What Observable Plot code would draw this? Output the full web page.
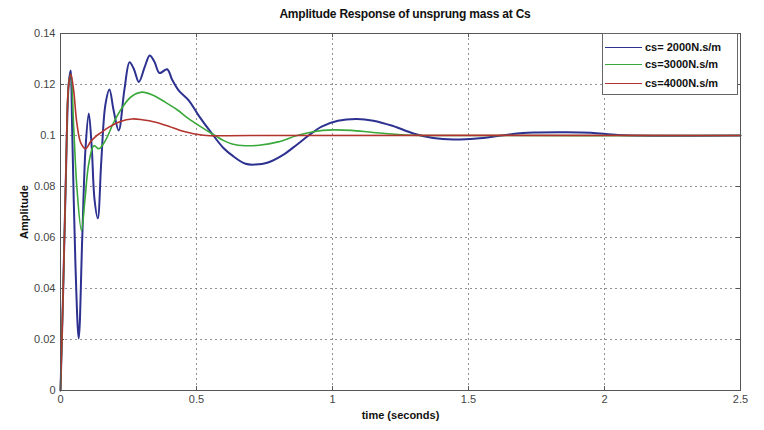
<!DOCTYPE html>
<html>
<head>
<meta charset="utf-8">
<script src="https://cdn.jsdelivr.net/npm/d3@7"></script>
<script src="https://cdn.jsdelivr.net/npm/@observablehq/plot@0.6"></script>
<style>
  html, body { margin: 0; padding: 0; background: #fff; }
  #wrap { position: relative; width: 764px; height: 430px; font-family: "Liberation Sans", Arial, sans-serif; }
  #title { position: absolute; left: 60px; width: 690px; top: 7px; text-align: center; font-weight: bold; font-size: 12px; color: #111; letter-spacing: -0.2px; }
  #legend { position: absolute; left: 602px; top: 33px; width: 136px; height: 62px; border: 1px solid #666; background: #fff; box-sizing: border-box; font-size: 11px; font-weight: bold; color: #111; }
  .row { position: absolute; left: 2px; height: 14px; display: flex; align-items: center; }
  .sw { width: 37px; height: 0; border-top: 1.5px solid; margin-right: 3px; }
  g[aria-label="y-axis label"] text, g[aria-label="x-axis label"] text { font-weight: bold; fill: #111; font-size: 11px; }
</style>
</head>
<body>
<div id="wrap">
  <div id="chart"></div>
  <div id="title">Amplitude Response of unsprung mass at Cs</div>
  <div id="legend"></div>
</div>
<script>
// --- data ---
const seriesNames = ["cs= 2000N.s/m", "cs=3000N.s/m", "cs=4000N.s/m"];
const seriesColors = ["#2d3190", "#3aa83a", "#b3342f"];

const t2000 = [0, 0.01, 0.02, 0.03, 0.037, 0.043, 0.055, 0.067, 0.08, 0.092, 0.104, 0.115, 0.125, 0.137, 0.15, 0.165, 0.18, 0.195, 0.214, 0.235, 0.254, 0.27, 0.288, 0.31, 0.328, 0.345, 0.364, 0.392, 0.41, 0.435, 0.472, 0.508, 0.557, 0.6, 0.631, 0.68, 0.717, 0.76, 0.82, 0.87, 0.912, 0.96, 1.02, 1.09, 1.15, 1.22, 1.30, 1.37, 1.445, 1.53, 1.62, 1.7, 1.75, 1.85, 1.95, 2.05, 2.2, 2.5];
const v2000 = [0, 0.04, 0.085, 0.12, 0.1255, 0.102, 0.049, 0.0204, 0.06, 0.095, 0.1086, 0.095, 0.075, 0.0675, 0.09, 0.112, 0.118, 0.11, 0.102, 0.118, 0.1287, 0.126, 0.121, 0.127, 0.1314, 0.129, 0.1245, 0.126, 0.122, 0.1176, 0.1137, 0.1078, 0.1007, 0.095, 0.0922, 0.0889, 0.0886, 0.0893, 0.0925, 0.0965, 0.1, 0.1035, 0.1058, 0.1065, 0.1058, 0.1038, 0.1007, 0.099, 0.0984, 0.0988, 0.1, 0.101, 0.1012, 0.1013, 0.1011, 0.1002, 0.0999, 0.1];

const t3000 = [0, 0.01, 0.02, 0.03, 0.038, 0.049, 0.06, 0.077, 0.09, 0.104, 0.123, 0.141, 0.165, 0.195, 0.227, 0.26, 0.3, 0.34, 0.386, 0.43, 0.472, 0.515, 0.557, 0.6, 0.631, 0.68, 0.73, 0.8, 0.87, 0.93, 1.0, 1.07, 1.15, 1.27, 1.4, 2.5];
const v3000 = [0, 0.04, 0.085, 0.12, 0.124, 0.102, 0.08, 0.0627, 0.075, 0.089, 0.096, 0.0948, 0.098, 0.105, 0.111, 0.1152, 0.117, 0.1158, 0.113, 0.11, 0.1065, 0.1035, 0.1007, 0.098, 0.0967, 0.096, 0.0962, 0.0975, 0.1, 0.1015, 0.1022, 0.102, 0.1012, 0.1002, 0.1, 0.1];

const t4000 = [0, 0.01, 0.02, 0.03, 0.038, 0.048, 0.06, 0.075, 0.092, 0.11, 0.129, 0.15, 0.178, 0.22, 0.263, 0.3, 0.35, 0.4, 0.435, 0.47, 0.5, 0.55, 0.6, 0.7, 2.5];
const v4000 = [0, 0.04, 0.085, 0.12, 0.124, 0.118, 0.105, 0.097, 0.0948, 0.0975, 0.0996, 0.1012, 0.1033, 0.1055, 0.1065, 0.1062, 0.1052, 0.1035, 0.1022, 0.1012, 0.1005, 0.0999, 0.0999, 0.1, 0.1];

const xTicks = [0, 0.5, 1, 1.5, 2, 2.5];
const yTicks = [0, 0.02, 0.04, 0.06, 0.08, 0.1, 0.12, 0.14];

// --- build table ---
const times = [t2000, t3000, t4000];
const vals = [v2000, v3000, v4000];
const rows = [];
seriesNames.forEach((name, i) => {
  times[i].forEach((t, j) => rows.push({series: name, t, v: vals[i][j]}));
});

const fmtY = d => d === 0 ? "0" : String(+d.toFixed(2));

const plot = Plot.plot({
  width: 764,
  height: 430,
  marginLeft: 60,
  marginRight: 24,
  marginTop: 33,
  marginBottom: 40,
  style: {fontFamily: "'Liberation Sans', Arial, sans-serif", fontSize: "11px", background: "#fff", overflow: "visible"},
  x: {domain: [0, 2.5], ticks: xTicks, label: "time (seconds)", labelAnchor: "center", labelArrow: "none", labelOffset: 28, tickFormat: d => String(d)},
  y: {domain: [0, 0.14], ticks: yTicks, label: "Amplitude", labelAnchor: "center", labelArrow: "none", labelOffset: 40, tickFormat: fmtY},
  color: {domain: seriesNames, range: seriesColors},
  marks: [
    Plot.ruleX(xTicks.slice(1, -1), {stroke: "#777", strokeDasharray: "2,3", strokeWidth: 0.8}),
    Plot.ruleY(yTicks.slice(1, -1), {stroke: "#777", strokeDasharray: "2,3", strokeWidth: 0.8}),
    Plot.axisX({ticks: xTicks, tickSize: -4, tickPadding: 9, tickFormat: d => String(d), fill: "#444", stroke: "#555", label: "time (seconds)", labelAnchor: "center", labelArrow: "none", labelOffset: 28}),
    Plot.axisY({ticks: yTicks, tickSize: -4, tickPadding: 9, tickFormat: fmtY, fill: "#444", stroke: "#555", label: "Amplitude", labelAnchor: "center", labelArrow: "none", labelOffset: 40}),
    Plot.tickX(xTicks, {x: d => d, frameAnchor: "top", stroke: "#555", dy: 0, insetBottom: 0}),
    Plot.ruleX(xTicks, {x: d => d, y1: 0.14, y2: 0.14 - 0.0016, stroke: "#555"}),
    Plot.ruleY(yTicks, {y: d => d, x1: 2.5, x2: 2.5 - 0.015, stroke: "#555"}),
    Plot.lineY(rows.filter(d => d.series === seriesNames[0]), {x: "t", y: "v", stroke: "series", strokeWidth: 2, curve: "catmull-rom"}),
    Plot.lineY(rows.filter(d => d.series === seriesNames[1]), {x: "t", y: "v", stroke: "series", strokeWidth: 1.6, curve: "catmull-rom"}),
    Plot.lineY(rows.filter(d => d.series === seriesNames[2]), {x: "t", y: "v", stroke: "series", strokeWidth: 1.6, curve: "catmull-rom"}),
    Plot.frame({stroke: "#555", strokeWidth: 1})
  ].filter((m, i) => i !== 4)
});
document.getElementById("chart").appendChild(plot);

// legend
const leg = document.getElementById("legend");
const rowTops = [6, 23, 42];
seriesNames.forEach((name, i) => {
  const r = document.createElement("div");
  r.className = "row";
  r.style.top = rowTops[i] + "px";
  const sw = document.createElement("span");
  sw.className = "sw";
  sw.style.borderTopColor = seriesColors[i];
  const tx = document.createElement("span");
  tx.textContent = name;
  r.appendChild(sw); r.appendChild(tx);
  leg.appendChild(r);
});
</script>
</body>
</html>
